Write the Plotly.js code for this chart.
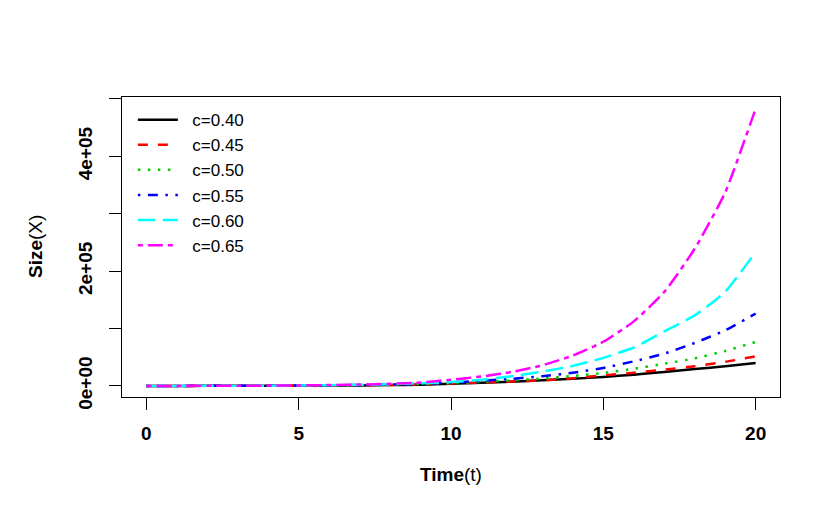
<!DOCTYPE html>
<html>
<head>
<meta charset="utf-8">
<script src="https://cdn.plot.ly/plotly-3.0.1.min.js"></script>
<style>
  html, body { margin: 0; padding: 0; background: #fff; }
  #chart { width: 830px; height: 520px; }
</style>
</head>
<body>
<div id="chart"></div>
<script>
// time points
const times = [0, 1, 2, 3, 4, 5, 6, 7, 8, 9, 10, 11, 12, 13, 14, 15, 16, 17, 18, 19, 20];

// size X(t) for each c
const size040 = [100, 140, 200, 280, 390, 540, 750, 1050, 1500, 2200, 4000, 5500, 7500, 9800, 12500, 15800, 19700, 24400, 29600, 34200, 40000];
const size045 = [100, 145, 210, 300, 430, 610, 870, 1250, 1800, 2900, 4500, 6000, 7800, 10000, 13500, 18500, 23000, 28400, 34500, 42000, 51600];
const size050 = [100, 150, 220, 320, 470, 690, 1000, 1450, 2150, 3300, 5000, 7200, 9800, 13000, 17500, 22600, 30000, 38800, 48100, 61000, 76600];
const size055 = [100, 155, 235, 350, 520, 780, 1150, 1700, 2500, 3800, 5700, 9000, 12500, 17000, 23000, 31400, 42900, 56300, 75000, 97000, 126000];
const size060 = [100, 160, 250, 380, 580, 880, 1320, 2000, 3000, 4500, 6800, 11000, 17000, 25000, 35000, 49000, 67000, 95000, 123000, 164000, 233400];
const size065 = [100, 165, 270, 420, 650, 1000, 1550, 2400, 3700, 6000, 11000, 16500, 24500, 36000, 53000, 77000, 112500, 163700, 239000, 337000, 483000];

const labels = ['c=0.40', 'c=0.45', 'c=0.50', 'c=0.55', 'c=0.60', 'c=0.65'];
const yTickVals = [0, 100000, 200000, 300000, 400000, 500000];
const yTickText = ['0e+00', '', '2e+05', '', '4e+05', ''];
const xTickVals = [0, 5, 10, 15, 20];

// R line types: solid, dashed, dotted, dotdash, longdash, twodash
const colors = ['#000000', '#FF0000', '#00CD00', '#0000FF', '#00FFFF', '#FF00FF'];
const dashes = ['solid', '10px,10px', '2.5px,7.5px', '2.5px,7.5px,10px,7.5px', '17.5px,7.5px', '5px,5px,15px,5px'];

const series = [size040, size045, size050, size055, size060, size065];

// R puts a wider gap between the legend line and its text
const gap = '\u00a0\u00a0';

const traces = series.map((vals, i) => ({
    type: 'scatter',
    mode: 'lines',
    x: times,
    y: vals,
    name: gap + labels[i],
    line: { color: colors[i], width: 2.5, dash: dashes[i], shape: 'spline', smoothing: 0.5 }
}));

const tickFont = { family: 'Liberation Sans, Arial, sans-serif', size: 19, color: '#000', weight: 'bold' };

const layout = {
    width: 830,
    height: 520,
    paper_bgcolor: '#fff',
    plot_bgcolor: '#fff',
    margin: { l: 122, r: 50, t: 97, b: 123 },
    showlegend: true,
    legend: {
        x: 0.0165, y: 0.983, xanchor: 'left', yanchor: 'top',
        bgcolor: 'rgba(0,0,0,0)',
        borderwidth: 0,
        itemwidth: 40,
        tracegroupgap: 0,
        font: { family: 'Liberation Sans, Arial, sans-serif', size: 17, color: '#000' }
    },
    xaxis: {
        range: [-0.8, 20.8],
        tickvals: xTickVals,
        ticks: 'outside', ticklen: 12, tickwidth: 1, tickcolor: '#000',
        ticklabelstandoff: 7,
        showline: true, linecolor: '#000', linewidth: 1, mirror: true,
        showgrid: false, zeroline: false,
        tickfont: tickFont
    },
    yaxis: {
        range: [-19200, 503400],
        tickvals: yTickVals,
        ticktext: yTickText,
        tickangle: -90,
        ticks: 'outside', ticklen: 12, tickwidth: 1, tickcolor: '#000',
        ticklabelstandoff: 9,
        showline: true, linecolor: '#000', linewidth: 1, mirror: true,
        showgrid: false, zeroline: false,
        tickfont: tickFont
    },
    annotations: [
        {
            text: '<b>Time</b>(t)', xref: 'paper', yref: 'paper', x: 0.5, y: 0,
            yshift: -77, xanchor: 'center', yanchor: 'middle', showarrow: false,
            font: { family: 'Liberation Sans, Arial, sans-serif', size: 19, color: '#000' }
        },
        {
            text: '<b>Size</b>(X)', xref: 'paper', yref: 'paper', x: 0, y: 0.5,
            xshift: -87, xanchor: 'center', yanchor: 'middle', textangle: -90, showarrow: false,
            font: { family: 'Liberation Sans, Arial, sans-serif', size: 19, color: '#000' }
        }
    ]
};

Plotly.newPlot('chart', traces, layout, { displayModeBar: false, staticPlot: true });
</script>
</body>
</html>
